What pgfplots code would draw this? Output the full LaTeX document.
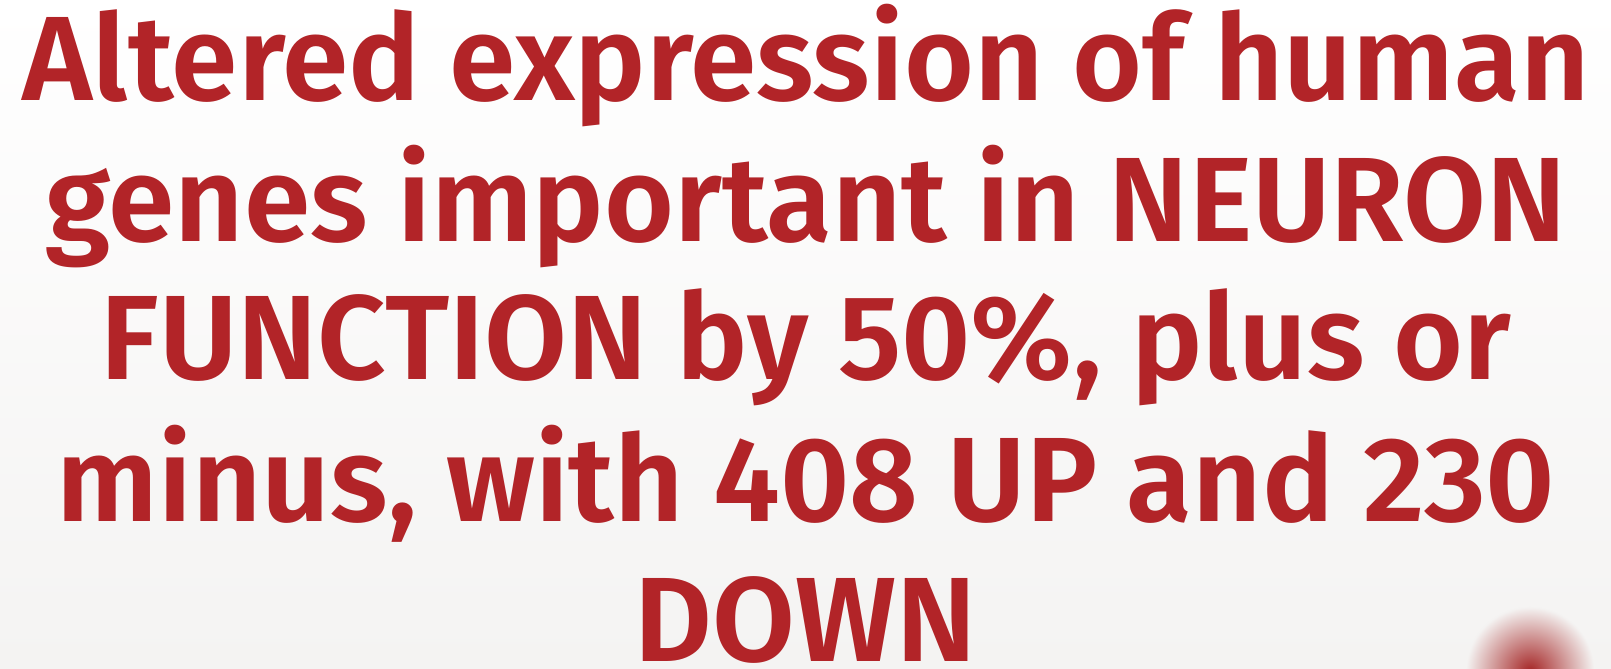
\documentclass[border=0pt]{standalone}
\usepackage{fontspec}
\setmainfont{Fira Sans}[BoldFont={Fira Sans SemiBold}]
\usepackage{pgfplots}
\pgfplotsset{compat=1.18}
\definecolor{titlered}{RGB}{178,36,40}
\definecolor{bgbottom}{RGB}{244,243,242}
\definecolor{blob}{RGB}{165,38,38}
\begin{document}
\begin{tikzpicture}
\begin{axis}[name=ax, hide axis, scale only axis, width=805.5pt, height=334.5pt,
  xmin=0, xmax=1611, ymin=0, ymax=669, clip=false]
\shade[top color=white, bottom color=bgbottom] (axis cs:0,0) rectangle (axis cs:1611,669);
\begin{scope}
\clip (axis cs:0,0) rectangle (axis cs:1611,669);
\shade[inner color=blob, outer color=bgbottom] (axis cs:1530,-2) circle[radius=32pt];
\end{scope}
\addplot[draw=none, forget plot] coordinates {(0,0) (1611,669)};
\tikzset{t/.style={anchor=base, text=titlered, font=\fontsize{60}{70}\selectfont\bfseries, inner sep=0pt}}
\node[t] at (axis cs:806,568) {Altered expression of human};
\node[t] at (axis cs:806,427) {genes important in NEURON};
\node[t] at (axis cs:806,289) {FUNCTION by 50\%, plus or};
\node[t] at (axis cs:806,147) {minus, with 408 UP and 230};
\node[t] at (axis cs:806,8) {DOWN};
\end{axis}
\pgfresetboundingbox
\useasboundingbox (ax.south west) rectangle (ax.north east);
\end{tikzpicture}
\end{document}
